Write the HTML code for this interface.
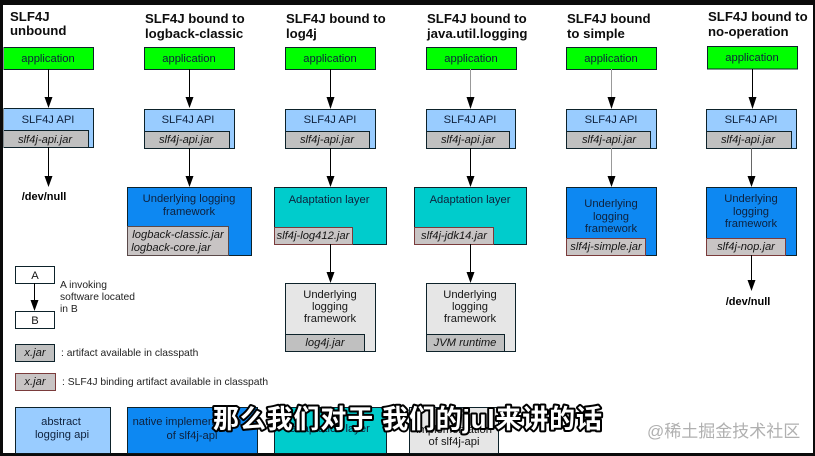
<!DOCTYPE html>
<html><head><meta charset="utf-8">
<style>
html,body{margin:0;padding:0;background:#0b0b0b}
svg{display:block}
text{font-family:"Liberation Sans",sans-serif;font-size:11.2px;fill:#10203c;text-anchor:middle}
.t{font-weight:bold;font-size:13.2px;fill:#111;text-anchor:start}
.j{font-style:italic;fill:#151515}
.k{fill:#151515}
.l{text-anchor:start;font-size:10.3px;fill:#222}
.n{font-weight:bold;font-size:11px;fill:#000}
.b rect{stroke:#10242c;stroke-width:1}
.a line{stroke:#000;stroke-width:1}
</style></head><body>
<svg width="815" height="456" viewBox="0 0 815 456" xmlns="http://www.w3.org/2000/svg">
<defs><filter id="s" x="0" y="0" width="100%" height="100%"><feGaussianBlur stdDeviation="0.25"/></filter></defs>
<rect width="815" height="456" fill="#0b0b0b"/>
<rect x="3" y="5" width="810" height="448" fill="#fff"/>
<g filter="url(#s)">
<text class="t" x="10" y="21">SLF4J</text><text class="t" x="10" y="35">unbound</text>
<text class="t" x="145" y="23">SLF4J bound to</text><text class="t" x="145" y="38">logback-classic</text>
<text class="t" x="286" y="23">SLF4J bound to</text><text class="t" x="286" y="38">log4j</text>
<text class="t" x="427" y="23">SLF4J bound to</text><text class="t" x="427" y="38">java.util.logging</text>
<text class="t" x="567" y="23">SLF4J bound</text><text class="t" x="567" y="38">to simple</text>
<text class="t" x="708" y="21">SLF4J bound to</text><text class="t" x="708" y="36">no-operation</text>

<g class="b">
<g fill="#00ff00">
<rect x="3.5" y="47.5" width="90" height="22"/><rect x="144.5" y="47.5" width="90" height="22"/><rect x="285.5" y="47.5" width="90" height="22"/><rect x="426.5" y="47.5" width="90" height="22"/><rect x="566.5" y="47.5" width="90" height="22"/><rect x="707.5" y="46.5" width="90" height="22.500"/>
</g>
<g fill="#99ccff">
<rect x="3.5" y="108.500" width="90" height="39"/><rect x="144.5" y="109.500" width="90" height="39"/><rect x="285.5" y="109.500" width="90" height="39"/><rect x="426.5" y="109.500" width="89" height="39"/><rect x="566.5" y="109.500" width="90" height="39"/><rect x="706.5" y="109.500" width="90" height="39"/>
<rect x="15.500" y="407.500" width="95" height="46"/>
</g>
<g fill="#0a88f2">
<rect x="127.500" y="187.500" width="124" height="68"/><rect x="566.500" y="187.500" width="90" height="68"/><rect x="706.500" y="187.500" width="90" height="68"/>
<rect x="127.500" y="407.500" width="130" height="46"/>
</g>
<g fill="#00cccc">
<rect x="274.500" y="187.500" width="112" height="57"/><rect x="414.500" y="187.500" width="112" height="57"/>
<rect x="274.500" y="407.500" width="112" height="46"/>
</g>
<g fill="#e6e6e6">
<rect x="285.500" y="283.500" width="90" height="68"/><rect x="426.500" y="283.500" width="89" height="68"/>
<rect x="409.500" y="407.500" width="89" height="46"/>
</g>
<g fill="#c0c0c0">
<rect x="3.500" y="130.500" width="85" height="17"/><rect x="144.500" y="131.500" width="85" height="17"/><rect x="285.500" y="131.500" width="84" height="17"/><rect x="426.500" y="131.500" width="83" height="17"/><rect x="566.500" y="131.500" width="84" height="17"/><rect x="706.500" y="131.500" width="85" height="17"/>
<rect x="285.500" y="334.500" width="79" height="17"/><rect x="426.500" y="334.500" width="78" height="17"/>
<rect x="15.500" y="344.500" width="39" height="17"/>
</g>
<g fill="#c8c4c4">
<rect x="127.500" y="226.500" width="101" height="29" style="stroke:#5a4a4a"/><rect x="274.500" y="227.500" width="78" height="17" style="stroke:#7a3a3a"/><rect x="414.500" y="227.500" width="79" height="17" style="stroke:#7a3a3a"/><rect x="566.500" y="238.500" width="79" height="17" style="stroke:#7a3a3a"/><rect x="706.500" y="238.500" width="79" height="17" style="stroke:#7a3a3a"/>
<rect x="15.500" y="373.500" width="40" height="17" style="stroke:#7a3a3a"/>
</g>
<g fill="#fff">
<rect x="15.500" y="266.500" width="39" height="17"/><rect x="15.500" y="311.500" width="39" height="17"/>
</g>
</g>

<g class="a">
<line x1="48.500" y1="69" x2="48.500" y2="100"/><line x1="48.500" y1="147" x2="48.500" y2="179"/>
<line x1="189.500" y1="69" x2="189.500" y2="100"/><line x1="189.500" y1="148" x2="189.500" y2="179"/>
<line x1="330.500" y1="69" x2="330.500" y2="100"/><line x1="330.500" y1="148" x2="330.500" y2="179"/><line x1="330.500" y1="244" x2="330.500" y2="275"/>
<line x1="470.500" y1="69" x2="470.500" y2="100" style="stroke:#999"/><line x1="470.500" y1="148" x2="470.500" y2="179"/><line x1="470.500" y1="244" x2="470.500" y2="275"/>
<line x1="611.500" y1="69" x2="611.500" y2="100" style="stroke:#999"/><line x1="611.500" y1="148" x2="611.500" y2="179" style="stroke:#999"/>
<line x1="752.500" y1="69" x2="752.500" y2="100"/><line x1="751.500" y1="148" x2="751.500" y2="179" style="stroke:#666"/><line x1="751.500" y1="255" x2="751.500" y2="283"/>
<line x1="34.500" y1="283" x2="34.500" y2="303"/>
</g>
<g fill="#000">
<path d="M44.500 97h8l-4 11z"/><path d="M44.500 176h8l-4 11z"/>
<path d="M185.500 97h8l-4 11z"/><path d="M185.500 176h8l-4 11z"/>
<path d="M326.500 97h8l-4 12z"/><path d="M326.500 176h8l-4 11z"/><path d="M326.500 272h8l-4 11z"/>
<path d="M466.500 97h8l-4 12z"/><path d="M466.500 176h8l-4 11z"/><path d="M466.500 272h8l-4 11z"/>
<path d="M607.500 97h8l-4 12z"/><path d="M607.500 176h8l-4 11z"/>
<path d="M748.500 97h8l-4 12z"/><path d="M747.500 176h8l-4 11z"/><path d="M747.500 280h8l-4 11z"/>
<path d="M30.500 300h8l-4 11z"/>
</g>

<text x="48" y="62">application</text><text x="189" y="62">application</text><text x="330" y="62">application</text><text x="471" y="62">application</text><text x="611" y="62">application</text><text x="752" y="61">application</text>
<text x="48" y="123">SLF4J API</text><text x="188" y="123">SLF4J API</text><text x="330" y="123">SLF4J API</text><text x="470" y="123">SLF4J API</text><text x="611" y="123">SLF4J API</text><text x="751" y="123">SLF4J API</text>
<text class="j" x="45" y="143">slf4j-api.jar</text><text class="j" x="186" y="143">slf4j-api.jar</text><text class="j" x="327" y="143">slf4j-api.jar</text><text class="j" x="468" y="143">slf4j-api.jar</text><text class="j" x="609" y="143">slf4j-api.jar</text><text class="j" x="748" y="143">slf4j-api.jar</text>
<text class="j" x="178" y="238">logback-classic.jar</text><text class="j" x="171" y="251">logback-core.jar</text>
<text class="j" x="313" y="239">slf4j-log412.jar</text><text class="j" x="454" y="239">slf4j-jdk14.jar</text>
<text class="j" x="606" y="250">slf4j-simple.jar</text><text class="j" x="746" y="250">slf4j-nop.jar</text>
<text class="j" x="325" y="346">log4j.jar</text><text class="j" x="465" y="346">JVM runtime</text>
<text class="j" x="35" y="356">x.jar</text><text class="j" x="35" y="385">x.jar</text>
<text x="189" y="202">Underlying logging</text><text x="189" y="215">framework</text>
<text x="329" y="203">Adaptation layer</text><text x="470" y="203">Adaptation layer</text>
<text x="611" y="207">Underlying</text><text x="611" y="220">logging</text><text x="611" y="232">framework</text>
<text x="751" y="202">Underlying</text><text x="751" y="215">logging</text><text x="751" y="227">framework</text>
<text class="k" x="330" y="298">Underlying</text><text class="k" x="330" y="310">logging</text><text class="k" x="330" y="322">framework</text>
<text class="k" x="470" y="298">Underlying</text><text class="k" x="470" y="310">logging</text><text class="k" x="470" y="322">framework</text>
<text class="n" x="44" y="200">/dev/null</text><text class="n" x="748" y="305">/dev/null</text>
<text class="k" x="35" y="279">A</text><text class="k" x="35" y="324">B</text>
<text class="l" x="60" y="288">A invoking</text><text class="l" x="60" y="300">software located</text><text class="l" x="60" y="312">in B</text>
<text class="l" x="61" y="356">: artifact available in classpath</text>
<text class="l" x="62" y="385">: SLF4J binding artifact available in classpath</text>
<text x="61" y="425">abstract</text><text x="62" y="438">logging api</text>
<text x="187" y="425">native implementation</text><text x="192" y="439">of slf4j-api</text>
<text x="330" y="432">adaptation layer</text>
<text class="k" x="454" y="433">implementation</text><text class="k" x="454" y="445">of slf4j-api</text>
</g>

<text x="647" y="437" style="text-anchor:start;font-family:'Liberation Sans','Noto Sans CJK SC',sans-serif;font-size:17px;fill:#b0b0b0">@稀土掘金技术社区</text>
<text x="213" y="428" textLength="389" style="text-anchor:start;font-family:'Liberation Sans','Noto Sans CJK SC',sans-serif;font-size:26px;font-weight:bold;fill:#fff;stroke:#000;stroke-width:4px;paint-order:stroke;stroke-linejoin:round">那么我们对于 我们的jul来讲的话</text>
</svg>
</body></html>
